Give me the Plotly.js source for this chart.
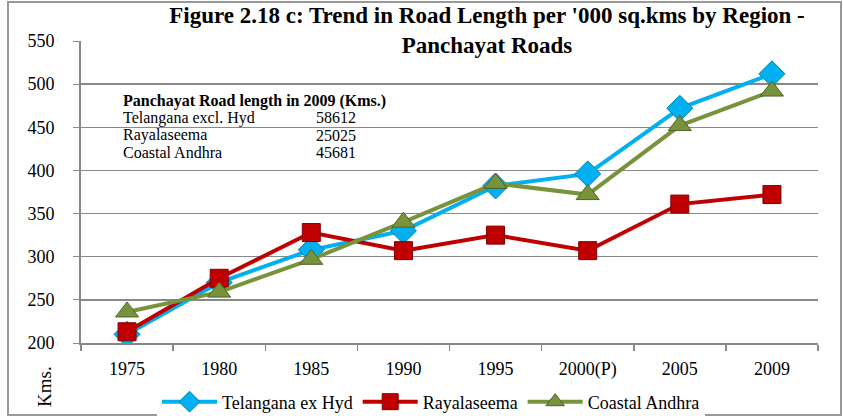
<!DOCTYPE html>
<html><head><meta charset="utf-8">
<script src="https://cdn.plot.ly/plotly-3.0.1.min.js"></script>
<style>body{margin:0;padding:0;background:#fff}#chart{width:843px;height:416px}</style>
</head><body><div id="chart"></div>
<script>
const categories = ["1975","1980","1985","1990","1995","2000(P)","2005","2009"];
const telangana = [210, 270, 308, 330, 382, 396, 472, 512];
const rayalaseema = [213, 275, 328, 307, 325, 307, 361, 372];
const coastal = [236, 259, 297, 340, 385, 372, 452, 492];
const boxRows = [["Telangana excl. Hyd","58612"],["Rayalaseema","25025"],["Coastal Andhra","45681"]];

const F = "Liberation Serif, Times New Roman, serif";
const ml=81, mr=25, mt=41, mb=73, W=843, H=416;
const pw=W-ml-mr, ph=H-mt-mb;
const px = v => (v-ml)/pw, py = v => (H-mb-v)/ph;

function tr(name, y, color, sym, size, lineColor) {
  return {x: categories, y: y, name: name, type: 'scatter', mode: 'lines+markers',
    line: {color: color, width: 4},
    marker: {symbol: sym, size: size, color: color, line: {color: lineColor, width: 1}}};
}
const data = [
  tr("Telangana ex Hyd", telangana, "#00B0F0", "diamond", 20, "#0080B0"),
  tr("Rayalaseema", rayalaseema, "#C00000", "square", 18, "#800000"),
  tr("Coastal Andhra", coastal, "#77933C", "triangle-up", 20, "#4F6228")
];

const ann = [
  {text: "<b>Panchayat Road length in 2009 (Kms.)</b>", x: px(121), y: py(101), xref:'paper', yref:'paper', xanchor:'left', yanchor:'middle', showarrow:false, font:{family:F,size:16,color:'#000'}},
  {text: "Kms.", x: px(44), y: py(387), xref:'paper', yref:'paper', xanchor:'center', yanchor:'middle', textangle:-90, showarrow:false, font:{family:F,size:19,color:'#000'}}
];
boxRows.forEach((r,i)=>{
  ann.push({text: r[0], x: px(121), y: py(118+17*i), xref:'paper', yref:'paper', xanchor:'left', yanchor:'middle', showarrow:false, font:{family:F,size:16,color:'#000'}});
  ann.push({text: r[1], x: px(314), y: py(118+17*i), xref:'paper', yref:'paper', xanchor:'left', yanchor:'middle', showarrow:false, font:{family:F,size:16,color:'#000'}});
});

const layout = {
  width: W, height: H,
  margin: {l: ml, r: mr, t: mt, b: mb, autoexpand: false},
  paper_bgcolor: '#fff', plot_bgcolor: '#fff',
  title: {text: "<b>Figure 2.18 c: Trend in Road Length per '000 sq.kms by Region -<br>Panchayat Roads</b>", xref:'container', yref:'container', x: 487/W, xanchor:'center', y: 1-23/H, yanchor:'middle', font: {family: F, size: 23, color: '#000'}},
  xaxis: {type:'category', showgrid:false, showline:true, linecolor:'#888', linewidth:2, ticks:'outside', tickson:'boundaries', ticklen:6, tickcolor:'#888', tickwidth:1.5, ticklabelstandoff:8, tickfont:{family:F,size:18,color:'#000'}, range:[-0.5,7.5], fixedrange:true},
  yaxis: {range:[200,550], dtick:50, showgrid:true, gridcolor:'#888', gridwidth:1.5, showline:true, linecolor:'#888', linewidth:2, ticks:'outside', ticklen:6, tickcolor:'#888', ticklabelstandoff:15, tickfont:{family:F,size:18,color:'#000'}, zeroline:false},
  showlegend: true,
  legend: {orientation:'h', x: px(431), xanchor:'center', y: py(402), yanchor:'middle', font:{family:F,size:18,color:'#000'}, itemwidth:55, tracegroupgap:0},
  annotations: ann,
  shapes: [{type:'rect', xref:'paper', yref:'paper', x0: px(8), x1: px(841), y0: py(415), y1: py(2), line:{color:'#999', width:2}}]
};
Plotly.newPlot('chart', data, layout, {displayModeBar:false, staticPlot:true});
</script></body></html>
